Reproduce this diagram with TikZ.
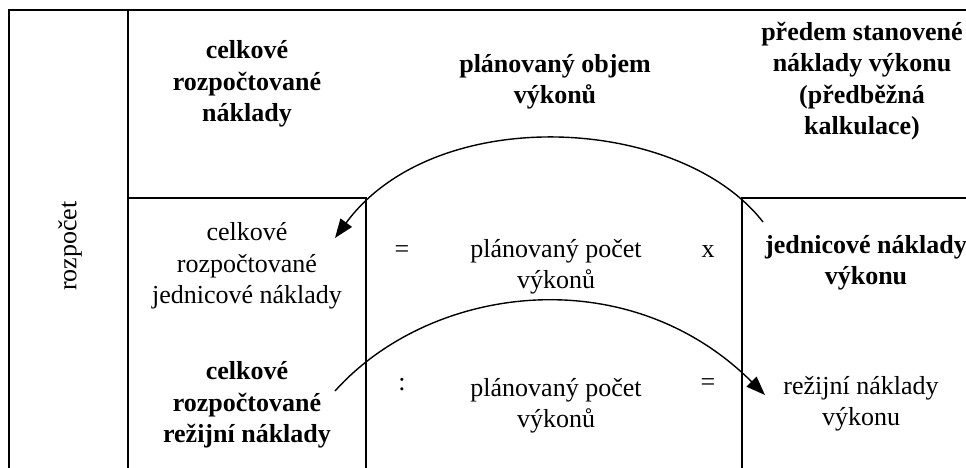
\documentclass[tikz,border=0pt]{standalone}
\usepackage{fontspec}
\setmainfont{Liberation Serif}
\usetikzlibrary{arrows.meta}
\begin{document}
\begin{tikzpicture}[x=1pt,y=-1pt,
  frame/.style={line width=1.8pt},
  txt/.style={align=center,font=\fontsize{26}{31.5}\selectfont,inner sep=0pt},
  btxt/.style={align=center,font=\fontsize{26}{31.5}\selectfont\bfseries,inner sep=0pt},
  link/.style={line width=1.4pt,-{Triangle[length=19pt,width=14pt]}}]
\useasboundingbox (0,0) rectangle (966,468);
\fill[white] (0,0) rectangle (966,468);
% frame
\draw[frame] (966,10) -- (9,10) -- (9,468);
\draw[frame] (128,10) -- (128,468);
\draw[frame] (128,198) -- (366,198) -- (366,468);
\draw[frame] (966,198) -- (742,198) -- (742,468);
% texts
\node[txt,rotate=90] (roz) at (70,246) {rozpočet};
\node[btxt] (h1) at (247,84) {celkové\\rozpočtované\\náklady};
\node[btxt] (h2) at (555,82) {plánovaný objem\\výkonů};
\node[btxt] (h3) at (862,81) {předem stanovené\\náklady výkonu\\(předběžná\\kalkulace)};
\node[txt] (a1) at (247,266) {celkové\\rozpočtované\\jednicové náklady};
\node[txt] (eq1) at (402,252) {=};
\node[txt] (p1) at (556,267) {plánovaný počet\\výkonů};
\node[txt] (x1) at (708,252) {x};
\node[btxt] (j1) at (866,263) {jednicové náklady\\výkonu};
\node[btxt] (a2) at (247,405) {celkové\\rozpočtované\\režijní náklady};
\node[txt] (col) at (402,385) {:};
\node[txt] (p2) at (556,406) {plánovaný počet\\výkonů};
\node[txt] (eq2) at (708,385) {=};
\node[txt] (r2) at (861,404) {režijní náklady\\výkonu};
% arrows
\coordinate (s1) at (763,222);
\coordinate (e1) at (335,238);
\coordinate (s2) at (335,391);
\coordinate (e2) at (765,395);
\draw[link] (s1) .. controls (680,115) and (435,102) .. (e1);
\draw[link] (s2) .. controls (430,285) and (627,258) .. (e2);
\end{tikzpicture}
\end{document}
